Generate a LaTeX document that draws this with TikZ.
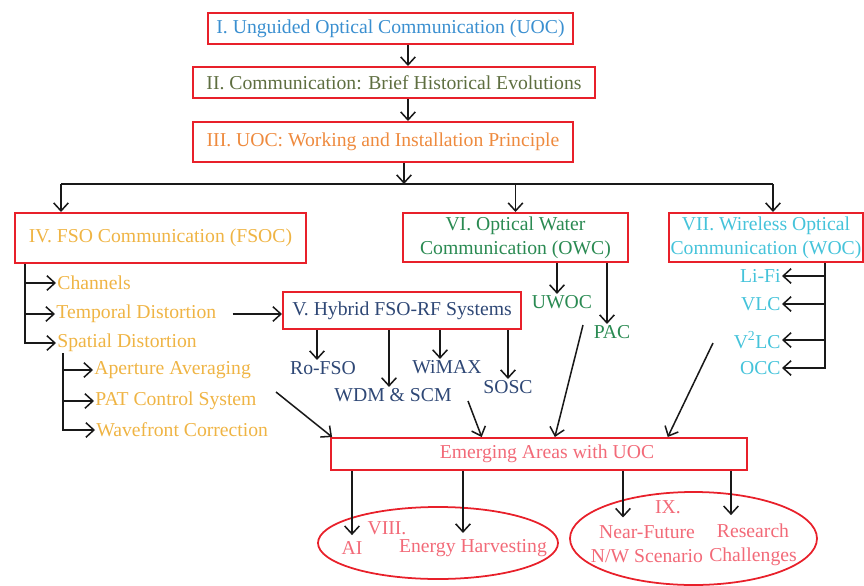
\documentclass[tikz,border=0pt]{standalone}
\usepackage{fontspec}
\setmainfont{Liberation Serif}
\usetikzlibrary{arrows.meta}
\usetikzlibrary{shapes,calc}
\definecolor{boxred}{HTML}{E8202A}
\definecolor{uocblue}{HTML}{3A8FD0}
\definecolor{histolive}{HTML}{5E6E40}
\definecolor{princorange}{HTML}{EE8A3E}
\definecolor{fsoyellow}{HTML}{EFB444}
\definecolor{hybridnavy}{HTML}{2E4775}
\definecolor{owcgreen}{HTML}{2A8A52}
\definecolor{woccyan}{HTML}{45C3DA}
\definecolor{emergpink}{HTML}{F26A78}

\begin{document}
\begin{tikzpicture}[x=0.03cm,y=-0.03cm]
     \tikzstyle{box_style} = [draw=boxred,line width=1.7pt,inner sep=0pt,align=center,font=\fontsize{16.8}{20.5}\selectfont]
     \tikzstyle{oval_style} = [ellipse,draw=boxred,line width=1.5pt,inner sep=0pt]
     \tikzstyle{item_style} = [inner sep=1pt,align=center,font=\fontsize{16.8}{20.5}\selectfont]
     \tikzstyle{edge_style} = [draw=black!90,line width=1.3pt,-{Straight Barb[length=2.4mm,width=4.4mm]}]
     \tikzstyle{line_style} = [draw=black!90,line width=1.3pt]
     \useasboundingbox (0,0) rectangle (864,586);
     % main chain
     \node[box_style,text=uocblue,minimum width=10.95cm,minimum height=0.93cm] (uoc) at (390.5,28.5) {I. Unguided Optical Communication (UOC)};
     \node[box_style,text=histolive,minimum width=12.06cm,minimum height=0.93cm] (hist) at (394,82.5) {II. Communication: Brief Historical Evolutions};
     \node[box_style,text=princorange,minimum width=11.4cm,minimum height=1.2cm] (princ) at (383,142) {III. UOC: Working and Installation Principle};
     \node[box_style,text=fsoyellow,minimum width=8.73cm,minimum height=1.5cm] (fsoc) at (160.5,238) {IV. FSO Communication (FSOC)};
     \node[box_style,text=hybridnavy,minimum width=7.14cm,minimum height=1.11cm] (hybrid) at (402,310.5) {V. Hybrid FSO-RF Systems};
     \node[box_style,text=owcgreen,minimum width=6.75cm,minimum height=1.47cm] (owc) at (515.5,237.5) {VI. Optical Water\\Communication (OWC)};
     \node[box_style,text=woccyan,minimum width=5.82cm,minimum height=1.47cm] (woc) at (766,237.5) {VII. Wireless Optical\\Communication (WOC)};
     \node[box_style,text=emergpink,minimum width=12.48cm,minimum height=0.96cm] (emerg) at (539,454) {\hspace*{0.48cm}Emerging Areas with UOC};
     % FSO items
     \node[item_style,text=fsoyellow,anchor=west] (chan) at (56,283) {Channels};
     \node[item_style,text=fsoyellow,anchor=west] (temp) at (55,314) {Temporal Distortion};
     \node[item_style,text=fsoyellow,anchor=west] (spat) at (56,343) {Spatial Distortion};
     \node[item_style,text=fsoyellow,anchor=west] (aper) at (93,370) {Aperture Averaging};
     \node[item_style,text=fsoyellow,anchor=west] (pat) at (94,401) {PAT Control System};
     \node[item_style,text=fsoyellow,anchor=west] (wave) at (95,430) {Wavefront Correction};
     % hybrid items
     \node[item_style,text=hybridnavy] (rofso) at (323,368) {Ro-FSO};
     \node[item_style,text=hybridnavy] (wdm) at (393,395) {WDM \& SCM};
     \node[item_style,text=hybridnavy] (wimax) at (447,367) {WiMAX};
     \node[item_style,text=hybridnavy] (sosc) at (508,387) {SOSC};
     % water items
     \node[item_style,text=owcgreen] (uwoc) at (562,302) {UWOC};
     \node[item_style,text=owcgreen] (pac) at (612,332) {PAC};
     % wireless items
     \node[item_style,text=woccyan,anchor=east] (lifi) at (782,276) {Li-Fi};
     \node[item_style,text=woccyan,anchor=east] (vlc) at (782,304) {VLC};
     \node[item_style,text=woccyan,anchor=east] (vvlc) at (782,340) {V\textsuperscript{2}LC};
     \node[item_style,text=woccyan,anchor=east] (occ) at (782,368) {OCC};
     % ovals
     \node[oval_style,minimum width=7.2cm,minimum height=2.16cm] (viii) at (438,543) {};
     \node[oval_style,minimum width=7.41cm,minimum height=2.79cm] (ix) at (693.5,538.5) {};
     \node[item_style,text=emergpink] (viiilabel) at (387,528) {VIII.};
     \node[item_style,text=emergpink] (ai) at (352,548) {AI};
     \node[item_style,text=emergpink] (energy) at (473,548) {Energy Harvesting};
     \node[item_style,text=emergpink] (ixlabel) at (668,507) {IX.};
     \node[item_style,text=emergpink] (nearf) at (647,544.5) {Near-Future\\N/W Scenario};
     \node[item_style,text=emergpink] (resch) at (753,544.5) {Research\\Challenges};
     % helper points
     \coordinate (topx) at (408,0);
     \coordinate (bus) at (404,184);
     \coordinate (busL) at (61,184);
     \coordinate (busR) at (773,184);
     \coordinate (fsocx) at (25,0);
     \coordinate (spatx) at (63,0);
     \coordinate (wocx) at (825,0);
     \coordinate (pattail) at (276,392);
     \coordinate (wdmtail) at (468,401);
     \coordinate (pactail) at (583,325);
     \coordinate (woctail) at (713,343);
     % chain arrows
     \draw[edge_style] (uoc.south -| topx) -- (hist.north -| topx);
     \draw[edge_style] (hist.south -| topx) -- (princ.north -| topx);
     \draw[edge_style] (princ.south -| bus) -- (bus);
     \draw[line_style] (busL) -- (busR);
     \draw[edge_style] (busL) -- (fsoc.north -| busL);
     \draw[edge_style] (busL -| owc.north) -- (owc.north);
     \draw[edge_style] (busR) -- (woc.north -| busR);
     % FSO tree
     \draw[edge_style] (fsoc.south -| fsocx) |- (spat.west);
     \draw[edge_style] (chan.west -| fsocx) -- (chan.west);
     \draw[edge_style] (temp.west -| fsocx) -- (temp.west);
     \draw[edge_style] (spat.south -| spatx) |- (wave.west);
     \draw[edge_style] (aper.west -| spatx) -- (aper.west);
     \draw[edge_style] (pat.west -| spatx) -- (pat.west);
     \draw[edge_style,shorten <=0.45cm] (temp.east) -- (temp.east -| hybrid.west);
     % hybrid tree
     \draw[edge_style] ($(rofso.north |- hybrid.south)+(-6,0)$) -- ($(rofso.north)+(-6,0)$);
     \draw[edge_style] ($(wdm.north |- hybrid.south)+(-4,0)$) -- ($(wdm.north)+(-4,0)$);
     \draw[edge_style] ($(wimax.north |- hybrid.south)+(-7,0)$) -- ($(wimax.north)+(-7,0)$);
     \draw[edge_style] (sosc.north |- hybrid.south) -- (sosc.north);
     % water tree
     \draw[edge_style] ($(uwoc.north |- owc.south)+(-5,0)$) -- ($(uwoc.north)+(-5,0)$);
     \draw[edge_style] ($(pac.north |- owc.south)+(-5,0)$) -- ($(pac.north)+(-5,0)$);
     % wireless tree
     \draw[edge_style] (woc.south -| wocx) |- (occ.east);
     \draw[edge_style] (lifi.east -| wocx) -- (lifi.east);
     \draw[edge_style] (vlc.east -| wocx) -- (vlc.east);
     \draw[edge_style] (vvlc.east -| wocx) -- (vvlc.east);
     % into emerging areas
     \draw[edge_style] (pattail) -- ($(emerg.north west)!0.005!(emerg.north east)$);
     \draw[edge_style] (wdmtail) -- ($(emerg.north west)!0.363!(emerg.north east)$);
     \draw[edge_style] (pactail) -- ($(emerg.north west)!0.538!(emerg.north east)$);
     \draw[edge_style] (woctail) -- ($(emerg.north west)!0.808!(emerg.north east)$);
     % out of emerging areas
     \draw[edge_style] (ai.north |- emerg.south) -- ($(ai.north)+(0,-5)$);
     \draw[edge_style] ($(energy.north |- emerg.south)+(-10,0)$) -- ($(energy.north)+(-10,-5)$);
     \draw[edge_style] ($(nearf.north |- emerg.south)+(-24,0)$) -- ($(nearf.north)+(-24,-7)$);
     \draw[edge_style] ($(resch.north |- emerg.south)+(-22,0)$) -- ($(resch.north)+(-22,-7)$);
\end{tikzpicture}
\end{document}
